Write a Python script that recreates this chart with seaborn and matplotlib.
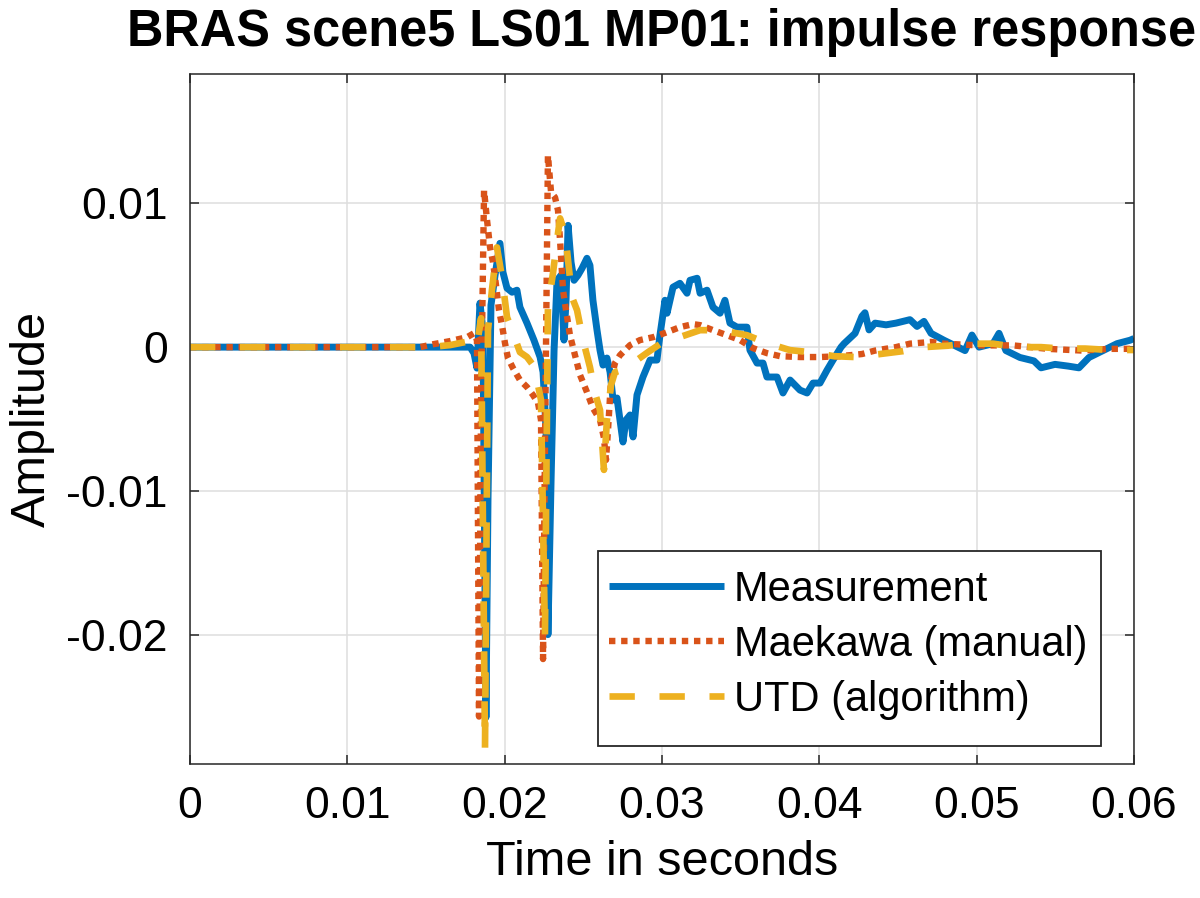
import numpy as np
import pandas as pd
import matplotlib
matplotlib.use("Agg")
import matplotlib.pyplot as plt
import matplotlib.patches as mpatches
import seaborn as sns

# ---- data (time in ms, amplitude in units of 1e-3) ----
meas_t = [0, 17.80, 18.05, 18.24, 18.43, 18.62, 18.81, 18.94, 19.13, 19.39, 19.70, 19.89,
          20.15, 20.47, 20.78, 20.97, 21.42, 21.86, 22.25, 22.44, 22.63, 22.75, 22.95, 23.14,
          23.33, 23.58, 23.77, 23.90, 24.03, 24.22, 24.41, 24.66, 24.92, 25.23, 25.42, 25.61,
          25.87, 26.06, 26.25, 26.50, 26.70, 26.89, 27.14, 27.33, 27.52, 27.71, 27.97, 28.16,
          28.41, 28.79, 29.24, 29.68, 29.87, 30.19, 30.32, 30.70, 31.14, 31.59, 31.78, 32.23,
          32.42, 32.86, 33.24, 33.69, 34.00, 34.32, 34.77, 35.40, 35.59, 36.04, 36.42, 36.67,
          37.31, 37.69, 38.14, 38.77, 39.22, 39.60, 40.04, 40.49, 40.87, 41.38, 41.57, 42.27,
          42.71, 42.90, 43.16, 43.54, 44.24, 44.87, 45.76, 46.21, 46.65, 47.10, 47.92, 48.81,
          49.26, 49.70, 50.15, 51.04, 51.42, 51.86, 52.75, 53.64, 54.09, 54.98, 55.81, 56.50,
          57.14, 58.03, 58.92, 59.75, 60.00]
meas_a = [0, 0, -0.42, -1.46, 3.06, 1.18, -25.76, -10.63, 2.92, 5.00, 7.22, 5.21,
          4.10, 3.82, 3.96, 2.78, 1.67, 0.49, -0.69, -1.74, -5.76, -20.0, -9.24, -0.21,
          4.65, 5.00, 0.49, 3.26, 8.47, 5.90, 4.65, 5.00, 5.49, 6.18, 5.69, 3.26,
          1.18, -0.21, -1.25, -0.76, -1.74, -3.68, -3.54, -5.07, -6.60, -5.07, -4.72, -6.25,
          -3.33, -2.08, -0.90, -0.90, 0.83, 3.26, 2.36, 4.17, 4.44, 3.75, 4.65, 4.79,
          3.75, 3.96, 2.78, 2.36, 3.26, 1.67, 1.39, 1.39, -0.21, -1.11, -1.11, -2.08,
          -2.08, -3.19, -2.29, -2.99, -3.19, -2.50, -2.50, -1.60, -0.90, 0.0, 0.24, 0.96,
          2.15, 2.39, 1.20, 1.67, 1.55, 1.67, 1.91, 1.44, 1.79, 0.96, 0.48, 0.0,
          -0.24, 0.84, 0.0, 0.24, 0.96, -0.24, -0.72, -0.96, -1.44, -1.20, -1.32, -1.44,
          -0.72, -0.24, 0.24, 0.48, 0.60]

maek_t = [0, 14.62, 15.45, 16.53, 17.61, 18.05, 18.24, 18.37, 18.50, 18.69, 18.88, 19.07,
          19.26, 19.45, 19.64, 19.83, 20.02, 20.21, 20.53, 20.97, 21.42, 21.80, 22.12, 22.31,
          22.44, 22.56, 22.75, 22.95, 23.20, 23.39, 23.52, 23.71, 23.90, 24.15, 24.47, 24.79,
          25.23, 25.61, 26.06, 26.31, 26.44, 26.57, 26.76, 27.01, 27.33, 27.97, 28.60, 29.43,
          30.32, 31.14, 31.97, 32.42, 33.24, 34.13, 34.96, 35.78, 36.67, 37.50, 38.77, 40.04,
          41.31, 42.71, 43.54, 44.87, 45.76, 47.10, 47.92, 50.15, 52.31, 54.53, 56.70, 58.48,
          60.00]
maek_a = [0, 0, 0.20, 0.42, 0.69, 0.97, 0.49, -25.7, -3.7, 10.9, 8.82, 6.94,
          5.90, 4.31, 2.57, 1.53, 0.28, -0.76, -1.46, -2.29, -2.78, -3.33, -3.89, -5.07,
          -21.7, -7.15, 13.33, 10.76, 10.42, 9.51, 7.43, 3.96, 2.57, 0.83, -0.56, -1.94,
          -3.13, -4.24, -5.07, -6.32, -7.85, -5.76, -2.29, -1.11, -0.56, 0.14, 0.49, 0.69,
          1.04, 1.39, 1.60, 1.53, 1.18, 0.83, 0.49, -0.07, -0.42, -0.63, -0.69, -0.69,
          -0.63, -0.48, -0.24, 0.0, 0.24, 0.36, 0.24, 0.12, 0.12, -0.12, -0.24, -0.12,
          -0.12]

utd_t = [0, 15.25, 16.53, 17.48, 17.92, 18.24, 18.50, 18.75, 18.94, 19.19, 19.51, 19.83,
         20.15, 20.47, 20.97, 21.42, 21.80, 22.12, 22.31, 22.56, 22.75, 23.07, 23.33, 23.52,
         23.77, 23.96, 24.28, 24.60, 24.98, 25.42, 25.74, 26.06, 26.31, 26.50, 26.76, 27.01,
         27.46, 27.97, 28.41, 29.11, 29.87, 30.95, 32.42, 33.69, 35.40, 36.67, 38.14, 39.41,
         40.93, 42.27, 43.79, 45.32, 46.65, 48.18, 49.26, 51.04, 52.56, 54.09, 55.36, 56.89,
         58.48, 60.00]
utd_a = [0, 0, 0.14, 0.35, 0.49, 0.14, 2.01, -27.99, 1.18, 3.96, 6.94, 4.86,
         2.08, 1.18, -0.35, -0.69, -1.25, -2.64, -3.68, -20.07, 2.78, 5.14, 7.43, 8.96,
         8.13, 6.74, 3.47, 2.57, 0.49, -1.39, -3.19, -4.38, -8.54, -5.07, -2.64, -1.74,
         -1.60, -1.39, -0.90, -0.35, 0.21, 0.63, 1.18, 1.18, 0.83, 0.28, -0.21, -0.35,
         -0.63, -0.69, -0.49, -0.28, 0.0, 0.10, 0.24, 0.24, 0.0, 0.0, -0.10, -0.10,
         -0.20, -0.20]

labels = ["Measurement", "Maekawa (manual)", "UTD (algorithm)"]
colors = ["#0072BD", "#D95319", "#EDB120"]
x_ticks = [0, 0.01, 0.02, 0.03, 0.04, 0.05, 0.06]
x_ticklabels = ["0", "0.01", "0.02", "0.03", "0.04", "0.05", "0.06"]
y_ticks = [-0.02, -0.01, 0, 0.01]
y_ticklabels = ["-0.02", "-0.01", "0", "0.01"]

sns.set_theme(style="ticks")
plt.rcParams["font.family"] = ["Liberation Sans", "DejaVu Sans"]
plt.rcParams["axes.unicode_minus"] = False
plt.rcParams["text.color"] = "black"
plt.rcParams["axes.labelcolor"] = "black"

W, H = 1200, 898
fig = plt.figure(figsize=(12, 8.98), dpi=100)
ax = fig.add_axes([190 / W, 1 - 764 / H, (1134 - 190) / W, (764 - 74) / H])

series = [(meas_t, meas_a), (maek_t, maek_a), (utd_t, utd_a)]
dash_specs = [None, (1.0, 0.9), (3.8, 3.7)]
widths = [5.0, 4.6, 4.8]
for (t, a), lab, col, dsh, lw in zip(series, labels, colors, dash_specs, widths):
    df = pd.DataFrame({"t": np.array(t) * 1e-3, "a": np.array(a) * 1e-3})
    sns.lineplot(data=df, x="t", y="a", ax=ax, color=col, linewidth=lw,
                 label=lab, sort=False, estimator=None)
    ln = ax.lines[-1]
    ln.set_solid_joinstyle("round")
    ln.set_solid_capstyle("butt")
    if dsh is not None:
        ln.set_dashes(dsh)
        ln.set_dash_capstyle("butt")

ax.set_xlim(0, 0.06)
ax.set_ylim(-0.029, 0.019)
ax.set_xticks(x_ticks)
ax.set_xticklabels(x_ticklabels)
ax.set_yticks(y_ticks)
ax.set_yticklabels(y_ticklabels)
ax.grid(True, color="#dedede", linewidth=1.1)
ax.set_axisbelow(True)
for sp in ax.spines.values():
    sp.set_visible(True)
    sp.set_color("#262626")
    sp.set_linewidth(1.1)
ax.tick_params(axis="both", direction="in", length=6.5, width=1.1, color="#262626",
               labelsize=32, labelcolor="black", top=True, right=True)
ax.tick_params(axis="x", pad=16)
ax.tick_params(axis="y", pad=16)

ax.set_xlabel("Time in seconds", fontsize=35, labelpad=9, color="black")
ax.set_ylabel("Amplitude", fontsize=35, labelpad=8, color="black")
ax.set_title("BRAS scene5 LS01 MP01: impulse response", fontsize=36.4,
             fontweight="bold", pad=20, color="black")

# legend box (MATLAB-style frame) and entries
frame = mpatches.Rectangle((598 / W, 1 - 746 / H), (1101 - 598) / W, (746 - 551) / H,
                           transform=fig.transFigure, facecolor="white",
                           edgecolor="#262626", linewidth=1.3, zorder=4.9,
                           clip_on=False)
ax.add_patch(frame)
leg = ax.legend(loc="upper left", bbox_to_anchor=(609 / W, 1 - 570 / H),
                bbox_transform=fig.transFigure, fontsize=30, frameon=False,
                handlelength=2.75, handletextpad=0.25, labelspacing=0.36,
                borderpad=0, borderaxespad=0)
leg.set_zorder(5)
for txt in leg.get_texts():
    txt.set_color("black")

fig.savefig("out.png", dpi=100, facecolor="white")
